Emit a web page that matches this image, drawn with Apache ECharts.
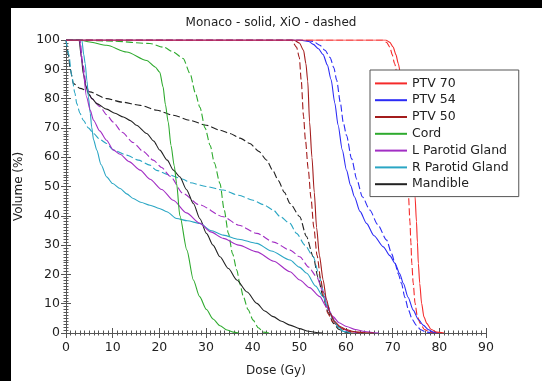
<!DOCTYPE html>
<html>
<head>
<meta charset="utf-8">
<script src="https://cdn.jsdelivr.net/npm/echarts@6/dist/echarts.min.js"></script>
<style>
html,body{margin:0;padding:0;background:#000;}
#wrap{position:relative;width:542px;height:381px;background:#000;overflow:hidden;}
#chart{position:absolute;left:11px;top:8px;width:531px;height:373px;background:#fff;}
</style>
</head>
<body>
<div id="wrap"><div id="chart"></div></div>
<script>
const titleText = 'Monaco - solid, XiO - dashed';
const xTicks = [0, 10, 20, 30, 40, 50, 60, 70, 80, 90];
const yTicks = [0, 10, 20, 30, 40, 50, 60, 70, 80, 90, 100];
const structures = ['PTV 70', 'PTV 54', 'PTV 50', 'Cord', 'L Parotid Gland', 'R Parotid Gland', 'Mandible'];
const colors = ['#f52a2a', '#2b2bf5', '#a31c1c', '#2eaa2e', '#a22ec4', '#2aa6c4', '#222222'];

// [dose (Gy), volume (%)]
const ptv70Solid = [[0,100],[68.5,100],[69.4,99.2],[70.1,97.6],[70.7,95],[71.2,92],[71.9,86.3],[72.5,78],[73.1,70],[73.7,62],[74.3,54],[74.8,46.5],[75.1,38],[75.3,31],[75.5,23.8],[75.8,17],[76.2,10.1],[76.7,5.5],[77.3,3.3],[78.2,1.3],[79.4,0.3],[81,0]];
const ptv70Dashed = [[0,100],[67.8,100],[68.7,99.2],[69.4,97.6],[69.9,95],[70.4,92],[71.2,86.3],[71.7,78],[72.2,70],[72.6,62],[73,54],[73.4,46.5],[73.7,38],[73.9,31],[74.1,23.8],[74.4,17],[74.8,10.1],[75.3,5.5],[75.9,3.3],[76.8,1.2],[78,0.3],[79.5,0]];
const ptv54Solid = [[0,100],[50,100],[52,99.5],[53,98.5],[54.1,97],[55.1,95],[56,91.5],[56.8,86.5],[57.6,78.5],[58.3,71],[59.2,62.5],[60.1,55.6],[61,50.3],[61.8,46.5],[63,41.5],[64.4,37.4],[66,33.2],[68,29.4],[69.4,26.4],[70.5,23.8],[71.5,20.2],[72.3,16.9],[73.3,12.2],[74.4,7.8],[75.5,4.6],[76.6,2.6],[77.7,1.1],[78.7,0.3],[80,0]];
const ptv54Dashed = [[0,100],[51,100],[53,99.5],[54.4,98.2],[55.5,96.5],[56.6,94],[57.4,90.5],[58,86.3],[58.8,78.5],[59.4,72],[60.1,67.5],[61.2,59.5],[62.3,52.5],[63.5,46.5],[65.1,42],[66.8,37],[68.7,31.7],[69.8,27],[70.5,23.8],[71.2,20.2],[71.9,16.9],[72.6,12.2],[73.4,7.8],[74.2,4.6],[75.1,2.6],[76,1.1],[77.2,0.3],[78.5,0]];
const ptv50Solid = [[0,100],[48.8,100],[50,99],[50.9,96.5],[51.4,92],[51.8,86],[52.2,72],[52.7,60],[53.2,48],[53.7,36],[54.3,26.5],[55.1,18.1],[55.8,11.5],[56.6,6.7],[57.5,4],[58.7,2.2],[60,1.2],[61.6,0.5],[64,0.1],[66,0]];
const ptv50Dashed = [[0,100],[48.3,100],[49.4,97.6],[50,94],[50.4,86.3],[50.9,74],[51.3,66],[51.9,56],[52.5,46],[53.1,36],[53.8,26.5],[54.6,18.1],[55.3,11.5],[56.1,6.7],[57.1,4],[58.3,2.2],[59.8,1],[61,0.4],[63,0]];
const cordSolid = [[0,100],[3,100],[5.1,99.3],[8.7,98.2],[13,95.9],[17.3,93],[19.1,90.8],[20.1,89],[20.8,84],[21.3,78],[21.9,72],[22.5,64],[23.2,57],[23.7,51],[24.4,40],[25.9,28.3],[27.3,18.1],[28.6,12.5],[30.1,8],[31.5,4.8],[33,2.5],[34.5,1],[35.8,0.3],[37,0]];
const cordDashed = [[0,100],[3,100],[10,99.6],[18,98.8],[21,97.5],[23,95.9],[25.1,93.7],[26.6,88.5],[27.7,82],[28.7,77],[29.8,70],[30.9,64],[31.8,58],[33,51],[33.9,42],[34.8,34],[35.7,27],[36.6,21.5],[37.3,16.5],[38,12.4],[39,8],[40.1,4.4],[41.2,1.8],[42.3,0.3],[43.5,0]];
const lParSolid = [[0,100],[2.9,100],[3.5,92],[4.4,80.6],[5.2,76],[5.9,72.6],[7.2,69],[8.7,65.8],[10.1,62.5],[11.6,61],[13.5,58.5],[15.9,55.6],[18,52.5],[20.5,49],[23,45.3],[25.8,41],[28.7,37.4],[31,34.5],[33.7,32.3],[37,30],[40.9,27.7],[44.5,24.5],[48,20.9],[50.1,18.1],[52.2,15.5],[54.4,12.4],[55.8,9],[57.2,5.6],[58.5,3.5],[60.1,2.2],[62,1.2],[64,0.5],[66,0.1],[67,0]];
const lParDashed = [[0,100],[3,100],[3.6,92],[4.4,84],[5.5,80],[7.3,77.2],[8.7,74.5],[10.1,72],[12,68.5],[14.4,65],[16.5,62],[18.7,59],[20.5,56.5],[22.3,53.5],[25.1,47.6],[28.5,43.8],[33.7,39.7],[37,36.8],[40.9,34],[44.5,31],[48,28.3],[50.1,26],[52,22.5],[53.7,19.2],[55,14.5],[55.9,10.1],[56.9,6],[57.9,3],[59.5,1.2],[61,0.4],[63,0]];
const rParSolid = [[0,100],[3.4,100],[3.8,95],[4.1,92],[4.5,86],[4.8,80.6],[5.2,75],[5.5,70.3],[5.9,66],[6.6,62.4],[7.5,57.5],[8.7,53.3],[10,51],[11.6,49.3],[13,47.5],[14.4,45.9],[16,44.6],[18,43.6],[20,42.5],[21.6,41.4],[23.7,39.1],[26,38.3],[28.7,37.4],[31,35],[33.7,33.4],[37,32],[40.9,30.6],[44,28],[48,24.9],[50,22.5],[51.6,20.4],[53.5,16],[55.1,12.4],[56.2,8],[57.3,4.4],[58.4,2],[59.5,0.5],[61,0]];
const rParDashed = [[0,100],[0.6,95],[1.2,88],[1.9,82],[2.3,78.3],[3,75],[3.7,72.6],[4.8,70],[5.9,68.1],[7.3,66],[8.7,64.7],[10.1,62.5],[13,60.7],[15.5,59],[18,57.3],[19.4,55.5],[22,54],[25.1,52.5],[26.6,51.3],[30,50],[33.7,48.8],[37,47],[40.1,45.3],[42.3,43.8],[44.4,42],[45.9,39.7],[48,37.4],[49.4,34],[51.2,30],[53,26],[54,21],[55.1,14.7],[56.2,9],[57.3,4.4],[58.4,2],[59.5,0.5],[61,0]];
const mandSolid = [[0,100],[2.8,100],[3.3,94],[3.7,88.5],[4.3,84],[4.8,81.7],[5.6,80],[6.6,78.3],[8.7,76.4],[10.5,75],[12.3,73.7],[13.8,72.5],[15.1,70.9],[17.3,68.1],[18.8,65.5],[20.1,62.4],[21.7,59],[23,55.6],[24.4,53.3],[25.8,49],[27.3,44.2],[28.7,39],[30.1,34],[31.5,30],[33,26],[34.8,22],[36.6,18.1],[38.8,14],[40.9,10.1],[42.6,7.5],[44.4,5.6],[46.2,4],[48,2.7],[50,1.5],[52,0.6],[54,0.1],[55,0]];
const mandDashed = [[0,100],[0.5,95],[0.9,90],[1.6,85.1],[3,83.5],[5.1,82.3],[8.7,80],[12,78.8],[15.9,77.7],[19.5,76],[23,74.3],[26.5,72.6],[30.1,70.9],[33,69.2],[35.1,68.1],[37.3,66.5],[39.4,64.7],[41.3,62],[43,59],[44.3,55.5],[45.5,52],[46.8,48],[48,44.2],[50.1,39.7],[51.5,33],[53,26],[54,19],[55.1,12.4],[56.2,7],[57.3,3.3],[58.5,1.2],[60,0.2],[61,0]];

const solidSets = [ptv70Solid, ptv54Solid, ptv50Solid, cordSolid, lParSolid, rParSolid, mandSolid];
const dashedSets = [ptv70Dashed, ptv54Dashed, ptv50Dashed, cordDashed, lParDashed, rParDashed, mandDashed];

const FONT = 'DejaVu Sans';
const axisColor = '#555';

function mkSeries(i, data, dashed) {
  return {
    type: 'line', name: structures[i], data: data,
    xAxisIndex: 0, yAxisIndex: 0,
    showSymbol: false, symbol: 'none',
    smooth: 0.25, smoothMonotone: 'x',
    lineStyle: { color: colors[i], width: 1.1, type: dashed ? [7, 3] : 'solid' },
    itemStyle: { color: colors[i] },
    emphasis: { disabled: true },
    z: dashed ? 2 : 3
  };
}
const series = [];
for (let i = structures.length - 1; i >= 0; i--) {
  series.push(mkSeries(i, dashedSets[i], true));
  series.push(mkSeries(i, solidSets[i], false));
}

const tickCommon = {
  axisLine: { show: true, lineStyle: { color: axisColor, width: 1 } },
  axisTick: { show: true, inside: true, length: 5, lineStyle: { color: axisColor } },
  minorTick: { show: true, splitNumber: 10, length: 2.5, lineStyle: { color: axisColor } },
  splitLine: { show: false },
  minorSplitLine: { show: false }
};

const chart = echarts.init(document.getElementById('chart'), null, { renderer: 'canvas' });
chart.setOption({
  backgroundColor: '#fff',
  animation: false,
  title: {
    text: titleText, left: 255, top: 4, textAlign: 'center',
    textStyle: { fontFamily: FONT, fontSize: 12, fontWeight: 'normal', color: '#222' }
  },
  legend: {
    data: structures, left: 359, top: 62, orient: 'vertical',
    backgroundColor: '#fff', borderColor: '#555', borderWidth: 1, borderRadius: 0,
    padding: [5, 10, 4, 5], itemGap: 0, itemWidth: 32, itemHeight: 2, icon: 'rect',
    selectedMode: false,
    textStyle: { fontFamily: FONT, fontSize: 12.5, color: '#222', lineHeight: 16.8 }
  },
  grid: { left: 55, right: 56, top: 32, bottom: 48, containLabel: false, outerBoundsMode: 'none' },
  xAxis: [
    Object.assign({
      type: 'value', min: 0, max: 90, interval: 10, position: 'bottom',
      name: 'Dose (Gy)', nameLocation: 'middle', nameGap: 32,
      nameTextStyle: { fontFamily: FONT, fontSize: 12, color: '#222' },
      axisLabel: { margin: 8, fontFamily: FONT, fontSize: 12.5, color: '#222',
        formatter: v => (xTicks.indexOf(v) >= 0 ? String(v) : '') }
    }, tickCommon),
    Object.assign({
      type: 'value', min: 0, max: 90, interval: 10, position: 'top',
      axisLabel: { show: false }
    }, tickCommon)
  ],
  yAxis: [
    Object.assign({
      type: 'value', min: 0, max: 100, interval: 10, position: 'left',
      name: 'Volume (%)', nameLocation: 'middle', nameGap: 27,
      nameTextStyle: { fontFamily: FONT, fontSize: 12, color: '#222' },
      axisLabel: { margin: 6, fontFamily: FONT, fontSize: 12.5, color: '#222',
        formatter: v => (yTicks.indexOf(v) >= 0 ? String(v) : '') }
    }, tickCommon),
    Object.assign({
      type: 'value', min: 0, max: 100, interval: 10, position: 'right',
      axisLabel: { show: false }
    }, tickCommon)
  ],
  series: series
});
</script>
</body>
</html>
